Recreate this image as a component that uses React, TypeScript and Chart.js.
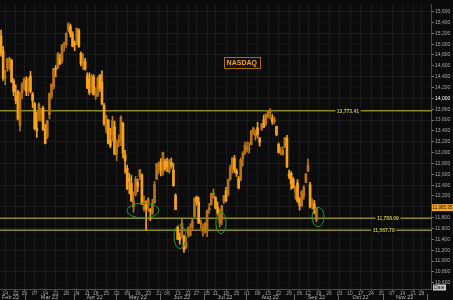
import React, { useEffect, useRef } from 'react';
import { Chart, registerables } from 'chart.js';
Chart.register(...registerables);

// ---- axis calendar (US trading days) ----
const START_DATE = '2022-02-10';
const END_DATE = '2022-12-02';
const HOLIDAYS = ['2022-02-21', '2022-04-15', '2022-05-30', '2022-06-20', '2022-07-04', '2022-09-05', '2022-11-24'];
const MONTH_NAMES = ['Jan', 'Feb', 'Mar', 'Apr', 'May', 'Jun', 'Jul', 'Aug', 'Sep', 'Oct', 'Nov', 'Dec'];

// ---- daily OHLC, Feb 10 .. Sep 16 2022 ----
const opens = [
  15150, 14880, 14380, 14560, 14680, 14700, 14320, 14050, 14120, 13500,
  14100, 14200, 14330, 14150, 14410, 14080, 13900, 13450, 13620, 13700,
  13820, 13430, 13290, 13700, 14040, 14210, 14540, 14560, 14740, 14690,
  14990, 14990, 15260, 15330, 15190, 15000, 15000, 15250, 14830, 14620,
  14680, 14420, 14360, 14120, 14400, 14040, 14070, 14430, 14300, 13870,
  13430, 13600, 13230, 13320, 13480, 12970, 13180, 13250, 13540, 12960,
  12710, 12530, 12430, 12000, 12230, 12450, 12560, 12590, 11960, 12090,
  12030, 11950, 11880, 12080, 12520, 12750, 12820, 12640, 12840, 12840,
  12650, 12820, 12680, 12210, 11630, 11440, 11470, 11460, 11250, 11500,
  11470, 11620, 11820, 12180, 12090, 11690, 11550, 11570, 11540, 11940,
  12040, 12170, 12170, 11990, 11700, 11770, 12100, 12300, 12230, 12510,
  12710, 12890, 12670, 12530, 12490, 12890, 13000, 13050, 13060, 13150,
  13390, 13310, 13460, 13260, 13430, 13610, 13540, 13660, 13740, 13630,
  13570, 13480, 13150, 12990, 12970, 13120, 13260, 12610, 12620, 12510,
  12270, 12440, 12150, 12020, 12200, 12450, 12660, 12410, 12050, 12060,
  11760,
];
const highs = [
  15260, 14960, 14520, 14740, 14760, 14720, 14360, 14250, 14150, 14120,
  14290, 14380, 14400, 14380, 14500, 14110, 13930, 13750, 13920, 13820,
  13860, 13520, 13600, 14100, 14270, 14560, 14610, 14850, 14820, 14990,
  15040, 15210, 15395, 15370, 15230, 15060, 15300, 15280, 14860, 14820,
  14740, 14470, 14470, 14440, 14440, 14200, 14400, 14440, 14510, 13910,
  13690, 13610, 13450, 13670, 13580, 13230, 13330, 13680, 13560, 13040,
  12770, 12620, 12580, 12280, 12560, 12510, 12690, 12610, 12200, 12110,
  12170, 11970, 12140, 12470, 12800, 12830, 12890, 13010, 12880, 12900,
  12880, 12900, 12800, 12240, 11640, 11520, 11770, 11480, 11440, 11630,
  11690, 11770, 12170, 12200, 12180, 11760, 11680, 11710, 11940, 12060,
  12250, 12330, 12190, 12090, 11960, 12030, 12210, 12360, 12510, 12770,
  12910, 12950, 12700, 12560, 12900, 13020, 13190, 13200, 13190, 13410,
  13470, 13420, 13560, 13280, 13540, 13690, 13710, 13780, 13810, 13700,
  13660, 13490, 13180, 13100, 13110, 13280, 13320, 12680, 12650, 12540,
  12380, 12500, 12170, 12300, 12390, 12620, 12880, 12450, 12150, 12120,
  11990,
];
const lows = [
  14780, 14330, 14250, 14500, 14520, 14290, 14050, 13900, 13600, 13400,
  13990, 14150, 14050, 14050, 14100, 13830, 13420, 13280, 13580, 13580,
  13410, 13160, 13260, 13620, 13990, 14170, 14400, 14550, 14620, 14650,
  14870, 14940, 15220, 15130, 14950, 14880, 14990, 14940, 14600, 14530,
  14520, 14180, 14070, 14100, 14060, 13980, 14030, 14130, 13880, 13500,
  13360, 13160, 13090, 13210, 12960, 12850, 13110, 13130, 12900, 12620,
  12320, 12240, 12100, 11900, 12200, 12280, 12500, 12040, 11920, 11570,
  11920, 11750, 11860, 12060, 12500, 12610, 12570, 12580, 12670, 12650,
  12620, 12710, 12380, 11950, 11400, 11310, 11420, 11160, 11230, 11440,
  11460, 11560, 11820, 12030, 11690, 11600, 11460, 11510, 11450, 11880,
  12030, 12160, 11960, 11840, 11630, 11670, 12060, 12090, 12200, 12490,
  12620, 12630, 12560, 12330, 12480, 12750, 12960, 13010, 12990, 13140,
  13330, 13230, 13270, 13120, 13410, 13460, 13500, 13640, 13620, 13520,
  13530, 13310, 12990, 12960, 12950, 13090, 12720, 12520, 12320, 12340,
  12140, 12080, 11940, 12000, 12140, 12440, 12650, 11980, 11960, 11870,
  11720,
];
const closes = [
  14830, 14370, 14390, 14730, 14740, 14310, 14120, 13960, 13620, 14090,
  14270, 14360, 14130, 14360, 14130, 13960, 13440, 13400, 13890, 13760,
  13430, 13170, 13580, 14090, 14260, 14550, 14530, 14820, 14640, 14980,
  14990, 15200, 15360, 15190, 14960, 14990, 15290, 14960, 14640, 14720,
  14540, 14190, 14110, 14410, 14070, 14080, 14370, 14180, 13900, 13530,
  13680, 13170, 13130, 13600, 12970, 13200, 13240, 13650, 12990, 12850,
  12330, 12470, 12110, 12100, 12510, 12380, 12680, 12050, 12000, 11960,
  12150, 11920, 12070, 12410, 12800, 12760, 12670, 13000, 12690, 12740,
  12850, 12750, 12390, 11950, 11400, 11390, 11690, 11210, 11350, 11600,
  11550, 11740, 12160, 12080, 11700, 11690, 11620, 11700, 11930, 11980,
  12250, 12250, 11980, 11880, 11860, 12020, 12210, 12110, 12500, 12720,
  12900, 12680, 12610, 12350, 12870, 12990, 13130, 13110, 13070, 13400,
  13450, 13380, 13330, 13190, 13530, 13470, 13710, 13770, 13740, 13570,
  13610, 13330, 13000, 12990, 13040, 13270, 12740, 12560, 12430, 12350,
  12350, 12110, 12020, 12280, 12360, 12610, 12770, 12000, 12110, 11900,
  11985,
];

// ---- y ticks & annotations ----
const Y_MIN = 10485;
const Y_MAX = 15740;
const Y_STEP = 200;
const HIGHLIGHT_TICK = 14000;
const levelValues = [13773.41, 11788.09, 11567.78];
const levelLabels = ['13,773.41', '11,788.09', '11,567.78'];
const levelLabelIdx = [165, 184, 182];
const lastPriceLabel = '11,985.35';
const titleText = 'NASDAQ';
const titleIdx = 114.5;
const titleVal = 14667;
const ellipseIdx = [67.5, 85.1, 104.6, 150.8];
const ellipseVal = [11931, 11449, 11704, 11813];
const ellipseDays = [15.2, 5.7, 4.8, 5.7];
const ellipseSpan = [273, 436, 400, 364];

function buildDays(): string[] {
  const out: string[] = [];
  const d = new Date(START_DATE + 'T00:00:00Z');
  const end = new Date(END_DATE + 'T00:00:00Z');
  while (d <= end) {
    const dow = d.getUTCDay();
    const s = d.toISOString().slice(0, 10);
    if (dow !== 0 && dow !== 6 && !HOLIDAYS.includes(s)) out.push(s);
    d.setUTCDate(d.getUTCDate() + 1);
  }
  return out;
}

const FONT = "'Liberation Sans', Arial, sans-serif";

export default function App() {
  const ref = useRef<HTMLCanvasElement | null>(null);
  useEffect(() => {
    if (!ref.current) return;
    const days = buildDays();
    const weekKey = (s: string) => {
      const d = new Date(s + 'T00:00:00Z');
      const dow = (d.getUTCDay() + 6) % 7;
      d.setUTCDate(d.getUTCDate() - dow);
      return d.toISOString().slice(0, 10);
    };
    const weekStart = days.map((s, i) => i > 0 && weekKey(s) !== weekKey(days[i - 1]));
    const up = closes.map((c, i) => c >= opens[i]);
    const UP = '#b87314';
    const DOWN = '#f7a21e';
    const colors = up.map((u) => (u ? UP : DOWN));

    const bgPlugin = {
      id: 'bg',
      beforeDraw(chart: any) {
        const c = chart.ctx;
        c.save();
        c.fillStyle = '#0b0b0b';
        c.fillRect(0, 0, chart.width, chart.height);
        c.restore();
      },
    };

    const annoPlugin = {
      id: 'anno',
      beforeDatasetsDraw(chart: any) {
        const c = chart.ctx;
        const ys = chart.scales.y;
        const a = chart.chartArea;
        c.save();
        c.strokeStyle = '#8a8a1c';
        c.lineWidth = 1.5;
        levelValues.forEach((v) => {
          const y = ys.getPixelForValue(v);
          c.beginPath();
          c.moveTo(a.left, y);
          c.lineTo(a.right + 1, y);
          c.stroke();
        });
        c.restore();
      },
      afterDatasetsDraw(chart: any) {
        const c = chart.ctx;
        const xs = chart.scales.x;
        const ys = chart.scales.y;
        const perDay = xs.getPixelForValue(1) - xs.getPixelForValue(0);
        c.save();
        // level labels
        c.font = `bold 5px ${FONT}`;
        c.textBaseline = 'middle';
        c.textAlign = 'center';
        levelValues.forEach((v, i) => {
          const y = ys.getPixelForValue(v);
          const x = xs.getPixelForValue(levelLabelIdx[i]);
          const w = c.measureText(levelLabels[i]).width + 3;
          c.fillStyle = '#0b0b0b';
          c.fillRect(x - w / 2, y - 3, w, 6);
          c.fillStyle = '#c4c43a';
          c.fillText(levelLabels[i], x, y + 0.5);
        });
        // ellipses
        c.strokeStyle = '#1f9a2a';
        c.lineWidth = 1;
        ellipseIdx.forEach((ix, i) => {
          const cx = xs.getPixelForValue(ix);
          const cy = ys.getPixelForValue(ellipseVal[i]);
          const rx = (ellipseDays[i] * perDay) / 2;
          const ry = Math.abs(ys.getPixelForValue(ellipseVal[i] + ellipseSpan[i] / 2) - cy);
          c.beginPath();
          c.ellipse(cx, cy, rx, ry, 0, 0, Math.PI * 2);
          c.stroke();
        });
        // title box
        const tx = xs.getPixelForValue(titleIdx);
        const ty = ys.getPixelForValue(titleVal);
        c.font = `bold 7px ${FONT}`;
        const tw = c.measureText(titleText).width + 6;
        c.fillStyle = '#160e02';
        c.fillRect(tx - tw / 2, ty - 5.5, tw, 11);
        c.strokeStyle = '#a86a0c';
        c.lineWidth = 1;
        c.strokeRect(Math.round(tx - tw / 2) + 0.5, Math.round(ty - 5.5) + 0.5, Math.round(tw), 11);
        c.fillStyle = '#f0a020';
        c.fillText(titleText, tx, ty + 0.5);
        c.restore();
      },
      afterDraw(chart: any) {
        const c = chart.ctx;
        const xs = chart.scales.x;
        const ys = chart.scales.y;
        const a = chart.chartArea;
        const perDay = xs.getPixelForValue(1) - xs.getPixelForValue(0);
        c.save();
        // month row
        c.font = `5.5px ${FONT}`;
        c.textBaseline = 'middle';
        c.fillStyle = '#b8b8b8';
        c.strokeStyle = '#666';
        c.lineWidth = 1;
        const months: { m: number; s: number; e: number }[] = [];
        days.forEach((s, i) => {
          const m = Number(s.slice(5, 7)) - 1;
          if (!months.length || months[months.length - 1].m !== m) months.push({ m, s: i, e: i });
          else months[months.length - 1].e = i;
        });
        months.forEach((mo, k) => {
          const x0 = xs.getPixelForValue(mo.s) - perDay / 2;
          const x1 = xs.getPixelForValue(mo.e) + perDay / 2;
          if (k > 0) {
            const xx = Math.round(x0) + 0.5;
            c.beginPath();
            c.moveTo(xx, 294);
            c.lineTo(xx, 300);
            c.stroke();
          }
          const label = `${MONTH_NAMES[mo.m]} 22`;
          if (k === 0) {
            c.textAlign = 'left';
            c.fillText(label, a.left + 2, 297.5);
          } else if (mo.e - mo.s >= 8) {
            c.textAlign = 'center';
            c.fillText(label, (x0 + x1) / 2, 297.5);
          }
        });
        // last price box
        const ly = ys.getPixelForValue(closes[closes.length - 1]);
        c.fillStyle = '#f5a623';
        c.fillRect(a.right + 1, ly - 3.5, 22, 7);
        c.fillStyle = '#111';
        c.font = `4.5px ${FONT}`;
        c.textAlign = 'left';
        c.fillText(lastPriceLabel, a.right + 1.5, ly + 0.5);
        // Date box
        c.font = `5px ${FONT}`;
        c.fillStyle = '#c9c9c9';
        c.fillRect(a.right + 2, a.bottom - 4.5, 13, 6);
        c.fillStyle = '#111';
        c.fillText('Date', a.right + 3, a.bottom - 1.3);
        c.restore();
      },
    };

    const chart = new Chart(ref.current, {
      type: 'bar',
      data: {
        labels: days,
        datasets: [
          {
            data: lows.map((l, i) => [l, highs[i]]) as any,
            backgroundColor: colors,
            barThickness: 1,
            grouped: false,
            order: 2,
          } as any,
          {
            data: opens.map((o, i) => [o, closes[i]]) as any,
            backgroundColor: colors,
            barThickness: 2,
            minBarLength: 1,
            grouped: false,
            order: 1,
          } as any,
        ],
      },
      options: {
        animation: false,
        responsive: false,
        maintainAspectRatio: false,
        layout: { padding: 0 },
        plugins: { legend: { display: false }, tooltip: { enabled: false } },
        scales: {
          x: {
            type: 'category',
            offset: true,
            grid: {
              offset: false,
              color: (ctx: any) => (weekStart[ctx.index] ? '#1c1c1c' : 'rgba(0,0,0,0)'),
              tickColor: (ctx: any) => (weekStart[ctx.index] ? '#777' : 'rgba(0,0,0,0)'),
              tickLength: 2,
            },
            border: { color: '#4a4a4a' },
            ticks: {
              autoSkip: false,
              maxRotation: 0,
              minRotation: 0,
              padding: 0,
              color: '#a8a8a8',
              font: { size: 5, family: FONT },
              callback: (_v: any, i: number) => (weekStart[i] ? days[i].slice(8, 10) : ''),
            },
            afterFit: (s: any) => {
              s.height = 11;
            },
          },
          y: {
            type: 'linear',
            position: 'right',
            min: Y_MIN,
            max: Y_MAX,
            grid: {
              color: (ctx: any) => (ctx.tick && ctx.tick.value % 400 === 0 ? '#1b1b1b' : '#121212'),
              tickColor: '#777',
              tickLength: 3,
            },
            border: { color: '#4a4a4a' },
            ticks: {
              stepSize: Y_STEP,
              includeBounds: false,
              padding: 1,
              color: (ctx: any) => (ctx.tick && ctx.tick.value === HIGHLIGHT_TICK ? '#ffffff' : '#a8a8a8'),
              font: { size: 5, family: FONT },
              callback: (v: any) => Number(v).toLocaleString('en-US'),
            },
            afterFit: (s: any) => {
              s.width = 22;
            },
          },
        },
      } as any,
      plugins: [bgPlugin, annoPlugin],
    });
    return () => chart.destroy();
  }, []);
  return (
    <div style={{ position: 'fixed', left: 0, top: 0, width: 453, height: 300, background: '#0b0b0b' }}>
      <canvas ref={ref} width={453} height={300} style={{ display: 'block', width: 453, height: 300 }} />
    </div>
  );
}
